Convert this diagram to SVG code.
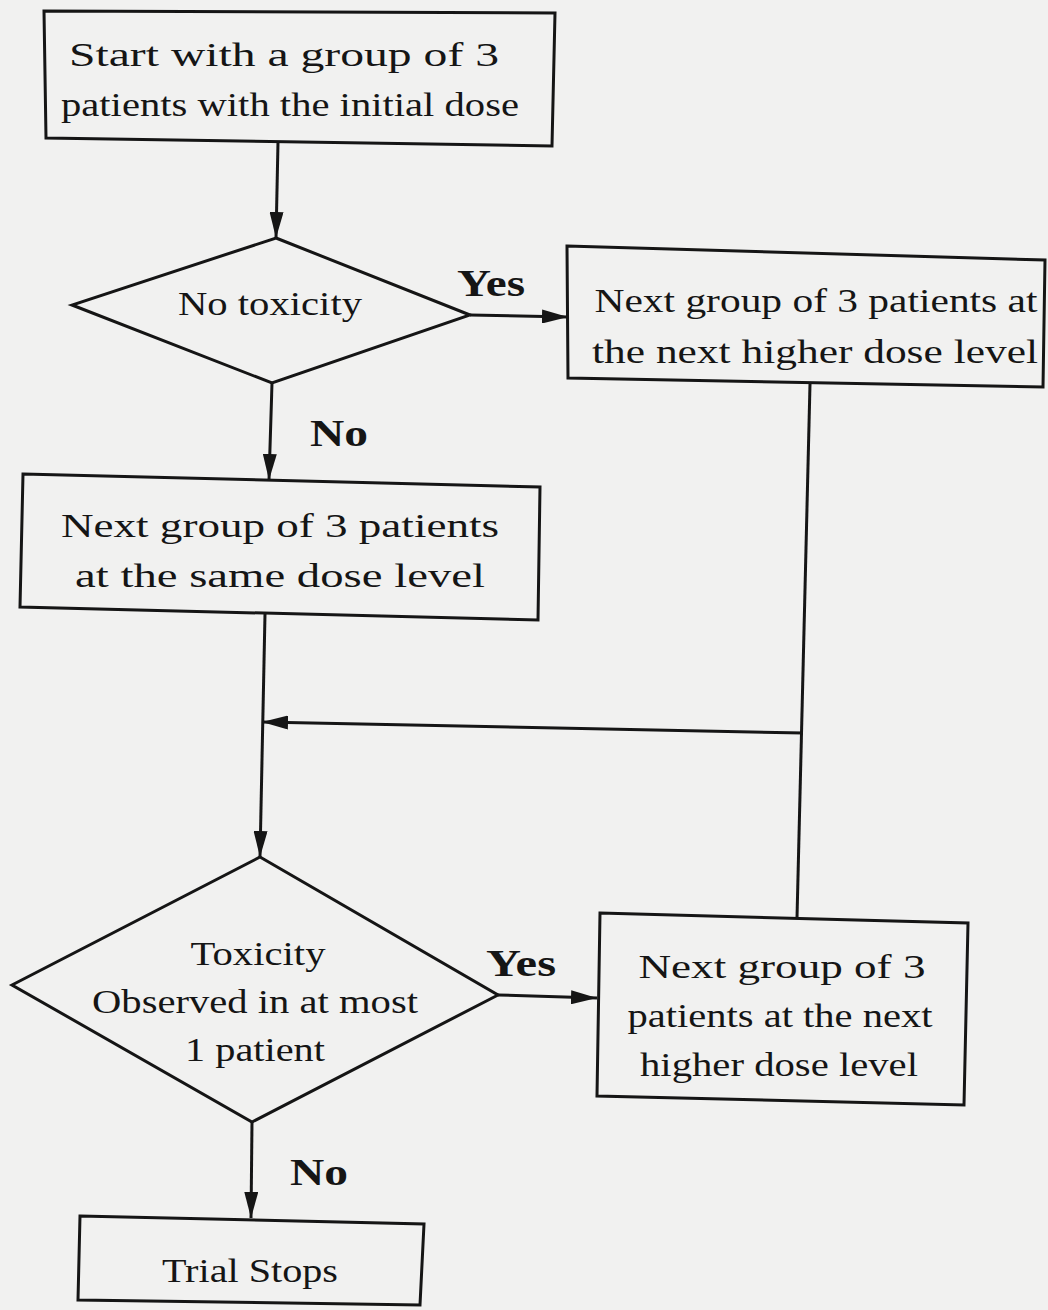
<svg xmlns="http://www.w3.org/2000/svg" width="1048" height="1310" viewBox="0 0 1048 1310">
<defs>
<marker id="ah" viewBox="0 0 26 14" refX="26" refY="7" markerWidth="26" markerHeight="14" markerUnits="userSpaceOnUse" orient="auto">
<path d="M0,0 L26,7 L0,14 Z" fill="#151515"/>
</marker>
<style>
.shape{fill:none;stroke:#151515;stroke-width:3}
.t{font-family:'Liberation Serif','DejaVu Serif Condensed','DejaVu Serif',serif;font-stretch:condensed;font-size:34px;fill:#151515;text-anchor:middle}
.lbl{font-family:'Liberation Serif','DejaVu Serif Condensed','DejaVu Serif',serif;font-stretch:condensed;font-size:38px;font-weight:bold;fill:#151515}
.c{fill:none;stroke:#151515;stroke-width:3}
</style>
</defs>
<rect width="1048" height="1310" fill="#f1f1f0"/>
<g id="start">
<polygon class="shape" points="44,11 555,13 552,146 46,138"/>
<text class="t" x="284" y="66" textLength="430" lengthAdjust="spacingAndGlyphs">Start with a group of 3</text>
<text class="t" x="290" y="116" textLength="458" lengthAdjust="spacingAndGlyphs">patients with the initial dose</text>
</g>
<g id="notox">
<polygon class="shape" points="276,238 470,315 272,383 72,305"/>
<text class="t" x="270" y="315" textLength="184" lengthAdjust="spacingAndGlyphs">No toxicity</text>
</g>
<g id="higher1">
<polygon class="shape" points="567,246 1045,260 1043,387 568,378"/>
<text class="t" x="816" y="312" textLength="443" lengthAdjust="spacingAndGlyphs">Next group of 3 patients at</text>
<text class="t" x="815" y="363" textLength="446" lengthAdjust="spacingAndGlyphs">the next higher dose level</text>
</g>
<g id="same">
<polygon class="shape" points="23,474 540,487 538,620 20,607"/>
<text class="t" x="280" y="537" textLength="438" lengthAdjust="spacingAndGlyphs">Next group of 3 patients</text>
<text class="t" x="280" y="587" textLength="410" lengthAdjust="spacingAndGlyphs">at the same dose level</text>
</g>
<g id="tox">
<polygon class="shape" points="260,857 498,995 252,1122 12,985"/>
<text class="t" x="258" y="965" textLength="135" lengthAdjust="spacingAndGlyphs">Toxicity</text>
<text class="t" x="255" y="1013" textLength="326" lengthAdjust="spacingAndGlyphs">Observed in at most</text>
<text class="t" x="255" y="1061" textLength="140" lengthAdjust="spacingAndGlyphs">1 patient</text>
</g>
<g id="higher2">
<polygon class="shape" points="600,913 968,923 964,1105 597,1096"/>
<text class="t" x="782" y="978" textLength="287" lengthAdjust="spacingAndGlyphs">Next group of 3</text>
<text class="t" x="780" y="1027" textLength="305" lengthAdjust="spacingAndGlyphs">patients at the next</text>
<text class="t" x="779" y="1076" textLength="278" lengthAdjust="spacingAndGlyphs">higher dose level</text>
</g>
<g id="stop">
<polygon class="shape" points="80,1216 424,1224 420,1305 78,1300"/>
<text class="t" x="250" y="1282" textLength="176" lengthAdjust="spacingAndGlyphs">Trial Stops</text>
</g>
<g id="connectors">
<line class="c" x1="278" y1="142" x2="276" y2="238" marker-end="url(#ah)"/>
<line class="c" x1="470" y1="315" x2="568" y2="317" marker-end="url(#ah)"/>
<line class="c" x1="272" y1="383" x2="269" y2="480" marker-end="url(#ah)"/>
<line class="c" x1="810" y1="384" x2="797" y2="918"/>
<line class="c" x1="803" y1="733" x2="262" y2="722" marker-end="url(#ah)"/>
<line class="c" x1="265" y1="614" x2="260" y2="857" marker-end="url(#ah)"/>
<line class="c" x1="498" y1="995" x2="597" y2="998" marker-end="url(#ah)"/>
<line class="c" x1="252" y1="1122" x2="251" y2="1218" marker-end="url(#ah)"/>
<text class="lbl" x="457" y="296" textLength="68" lengthAdjust="spacingAndGlyphs">Yes</text>
<text class="lbl" x="310" y="446" textLength="58" lengthAdjust="spacingAndGlyphs">No</text>
<text class="lbl" x="486" y="976" textLength="70" lengthAdjust="spacingAndGlyphs">Yes</text>
<text class="lbl" x="290" y="1185" textLength="58" lengthAdjust="spacingAndGlyphs">No</text>
</g>
</svg>
